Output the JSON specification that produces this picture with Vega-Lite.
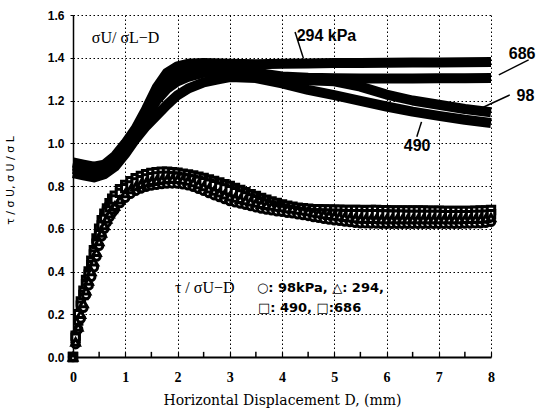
{
  "$schema": "https://vega.github.io/schema/vega-lite/v6.json",
  "width": 418,
  "height": 342,
  "autosize": {"type": "none"},
  "padding": {"left": 73, "top": 15, "right": 53, "bottom": 53},
  "background": "white",
  "config": {"view": {"stroke": null}, "font": "Liberation Sans"},
  "datasets": {
    "ratio": [
      {"s":"294","d":0,"v":0.91},{"s":"294","d":0.2,"v":0.90},{"s":"294","d":0.4,"v":0.89},{"s":"294","d":0.6,"v":0.90},{"s":"294","d":0.8,"v":0.94},{"s":"294","d":1.0,"v":1.00},{"s":"294","d":1.2,"v":1.07},{"s":"294","d":1.4,"v":1.16},{"s":"294","d":1.6,"v":1.26},{"s":"294","d":1.8,"v":1.33},{"s":"294","d":2.0,"v":1.36},{"s":"294","d":2.2,"v":1.372},{"s":"294","d":2.5,"v":1.375},{"s":"294","d":3.0,"v":1.372},{"s":"294","d":3.5,"v":1.37},{"s":"294","d":4.0,"v":1.372},{"s":"294","d":4.5,"v":1.373},{"s":"294","d":5.0,"v":1.375},{"s":"294","d":5.5,"v":1.376},{"s":"294","d":6.0,"v":1.377},{"s":"294","d":6.5,"v":1.378},{"s":"294","d":7.0,"v":1.378},{"s":"294","d":7.5,"v":1.379},{"s":"294","d":8.0,"v":1.38},
      {"s":"686","d":0,"v":0.895},{"s":"686","d":0.2,"v":0.885},{"s":"686","d":0.4,"v":0.875},{"s":"686","d":0.6,"v":0.88},{"s":"686","d":0.8,"v":0.925},{"s":"686","d":1.0,"v":0.985},{"s":"686","d":1.2,"v":1.055},{"s":"686","d":1.4,"v":1.14},{"s":"686","d":1.6,"v":1.23},{"s":"686","d":1.8,"v":1.30},{"s":"686","d":2.0,"v":1.335},{"s":"686","d":2.2,"v":1.352},{"s":"686","d":2.5,"v":1.36},{"s":"686","d":3.0,"v":1.35},{"s":"686","d":3.5,"v":1.33},{"s":"686","d":4.0,"v":1.312},{"s":"686","d":4.5,"v":1.306},{"s":"686","d":5.0,"v":1.304},{"s":"686","d":5.5,"v":1.303},{"s":"686","d":6.0,"v":1.303},{"s":"686","d":6.5,"v":1.303},{"s":"686","d":7.0,"v":1.304},{"s":"686","d":7.5,"v":1.304},{"s":"686","d":8.0,"v":1.305},
      {"s":"98","d":0,"v":0.88},{"s":"98","d":0.2,"v":0.87},{"s":"98","d":0.4,"v":0.865},{"s":"98","d":0.6,"v":0.87},{"s":"98","d":0.8,"v":0.91},{"s":"98","d":1.0,"v":0.97},{"s":"98","d":1.2,"v":1.04},{"s":"98","d":1.4,"v":1.12},{"s":"98","d":1.6,"v":1.20},{"s":"98","d":1.8,"v":1.255},{"s":"98","d":2.0,"v":1.29},{"s":"98","d":2.2,"v":1.31},{"s":"98","d":2.5,"v":1.33},{"s":"98","d":3.0,"v":1.335},{"s":"98","d":3.5,"v":1.32},{"s":"98","d":4.0,"v":1.30},{"s":"98","d":4.5,"v":1.295},{"s":"98","d":5.0,"v":1.29},{"s":"98","d":5.5,"v":1.265},{"s":"98","d":6.0,"v":1.228},{"s":"98","d":6.5,"v":1.20},{"s":"98","d":7.0,"v":1.18},{"s":"98","d":7.5,"v":1.16},{"s":"98","d":8.0,"v":1.145},
      {"s":"490","d":0,"v":0.86},{"s":"490","d":0.2,"v":0.85},{"s":"490","d":0.4,"v":0.84},{"s":"490","d":0.6,"v":0.855},{"s":"490","d":0.8,"v":0.89},{"s":"490","d":1.0,"v":0.95},{"s":"490","d":1.2,"v":1.02},{"s":"490","d":1.4,"v":1.08},{"s":"490","d":1.6,"v":1.13},{"s":"490","d":1.8,"v":1.18},{"s":"490","d":2.0,"v":1.225},{"s":"490","d":2.2,"v":1.255},{"s":"490","d":2.5,"v":1.285},{"s":"490","d":2.8,"v":1.30},{"s":"490","d":3.0,"v":1.31},{"s":"490","d":3.5,"v":1.305},{"s":"490","d":4.0,"v":1.28},{"s":"490","d":4.5,"v":1.25},{"s":"490","d":5.0,"v":1.225},{"s":"490","d":5.5,"v":1.198},{"s":"490","d":6.0,"v":1.172},{"s":"490","d":6.5,"v":1.148},{"s":"490","d":7.0,"v":1.128},{"s":"490","d":7.5,"v":1.11},{"s":"490","d":8.0,"v":1.095}
    ],
    "tau": [
      {"s":"490","d":0,"v":0},{"s":"490","d":0.05,"v":0.10},{"s":"490","d":0.1,"v":0.20},{"s":"490","d":0.15,"v":0.26},{"s":"490","d":0.2,"v":0.31},{"s":"490","d":0.25,"v":0.36},{"s":"490","d":0.3,"v":0.40},{"s":"490","d":0.35,"v":0.45},{"s":"490","d":0.4,"v":0.50},{"s":"490","d":0.45,"v":0.555},{"s":"490","d":0.5,"v":0.60},{"s":"490","d":0.55,"v":0.64},{"s":"490","d":0.6,"v":0.67},{"s":"490","d":0.65,"v":0.695},{"s":"490","d":0.7,"v":0.72},{"s":"490","d":0.75,"v":0.74},{"s":"490","d":0.8,"v":0.755},
      {"s":"490","d":0.9,"v":0.785},{"s":"490","d":1.0,"v":0.805},{"s":"490","d":1.1,"v":0.822},{"s":"490","d":1.2,"v":0.836},{"s":"490","d":1.3,"v":0.847},{"s":"490","d":1.4,"v":0.855},{"s":"490","d":1.5,"v":0.861},{"s":"490","d":1.6,"v":0.865},{"s":"490","d":1.7,"v":0.867},{"s":"490","d":1.8,"v":0.867},{"s":"490","d":1.9,"v":0.865},{"s":"490","d":2.0,"v":0.862},{"s":"490","d":2.1,"v":0.858},{"s":"490","d":2.2,"v":0.854},{"s":"490","d":2.3,"v":0.849},{"s":"490","d":2.4,"v":0.844},{"s":"490","d":2.5,"v":0.838},{"s":"490","d":2.6,"v":0.831},{"s":"490","d":2.7,"v":0.824},{"s":"490","d":2.8,"v":0.816},{"s":"490","d":2.9,"v":0.808},{"s":"490","d":3.0,"v":0.800},{"s":"490","d":3.1,"v":0.791},{"s":"490","d":3.2,"v":0.781},{"s":"490","d":3.3,"v":0.771},{"s":"490","d":3.4,"v":0.762},{"s":"490","d":3.5,"v":0.753},{"s":"490","d":3.6,"v":0.744},{"s":"490","d":3.7,"v":0.736},{"s":"490","d":3.8,"v":0.728},{"s":"490","d":3.9,"v":0.721},{"s":"490","d":4.0,"v":0.714},{"s":"490","d":4.1,"v":0.708},{"s":"490","d":4.2,"v":0.703},{"s":"490","d":4.3,"v":0.699},{"s":"490","d":4.4,"v":0.696},{"s":"490","d":4.5,"v":0.694},{"s":"490","d":4.6,"v":0.692},{"s":"490","d":4.7,"v":0.691},{"s":"490","d":4.8,"v":0.690},{"s":"490","d":4.9,"v":0.690},{"s":"490","d":5.0,"v":0.689},{"s":"490","d":5.1,"v":0.689},{"s":"490","d":5.2,"v":0.688},{"s":"490","d":5.3,"v":0.688},{"s":"490","d":5.4,"v":0.688},{"s":"490","d":5.5,"v":0.688},{"s":"490","d":5.6,"v":0.687},{"s":"490","d":5.7,"v":0.688},{"s":"490","d":5.8,"v":0.688},{"s":"490","d":5.9,"v":0.687},{"s":"490","d":6.0,"v":0.687},{"s":"490","d":6.1,"v":0.686},{"s":"490","d":6.2,"v":0.686},{"s":"490","d":6.3,"v":0.686},{"s":"490","d":6.4,"v":0.685},{"s":"490","d":6.5,"v":0.685},{"s":"490","d":6.6,"v":0.685},{"s":"490","d":6.7,"v":0.685},{"s":"490","d":6.8,"v":0.684},{"s":"490","d":6.9,"v":0.684},{"s":"490","d":7.0,"v":0.684},{"s":"490","d":7.1,"v":0.683},{"s":"490","d":7.2,"v":0.683},{"s":"490","d":7.3,"v":0.683},{"s":"490","d":7.4,"v":0.683},{"s":"490","d":7.5,"v":0.683},{"s":"490","d":7.6,"v":0.683},{"s":"490","d":7.7,"v":0.684},{"s":"490","d":7.8,"v":0.685},{"s":"490","d":7.9,"v":0.686},{"s":"490","d":8.0,"v":0.688},
      {"s":"686","d":0,"v":0},{"s":"686","d":0.05,"v":0.09},{"s":"686","d":0.1,"v":0.17},{"s":"686","d":0.15,"v":0.24},{"s":"686","d":0.2,"v":0.29},{"s":"686","d":0.25,"v":0.34},{"s":"686","d":0.3,"v":0.385},{"s":"686","d":0.35,"v":0.43},{"s":"686","d":0.4,"v":0.48},{"s":"686","d":0.45,"v":0.53},{"s":"686","d":0.5,"v":0.575},{"s":"686","d":0.55,"v":0.615},{"s":"686","d":0.6,"v":0.65},{"s":"686","d":0.65,"v":0.68},{"s":"686","d":0.7,"v":0.70},{"s":"686","d":0.75,"v":0.72},{"s":"686","d":0.8,"v":0.737},
      {"s":"686","d":0.9,"v":0.768},{"s":"686","d":1.0,"v":0.79},{"s":"686","d":1.1,"v":0.802},{"s":"686","d":1.2,"v":0.816},{"s":"686","d":1.3,"v":0.827},{"s":"686","d":1.4,"v":0.835},{"s":"686","d":1.5,"v":0.841},{"s":"686","d":1.6,"v":0.845},{"s":"686","d":1.7,"v":0.847},{"s":"686","d":1.8,"v":0.847},{"s":"686","d":1.9,"v":0.845},{"s":"686","d":2.0,"v":0.842},{"s":"686","d":2.1,"v":0.838},{"s":"686","d":2.2,"v":0.834},{"s":"686","d":2.3,"v":0.829},{"s":"686","d":2.4,"v":0.824},{"s":"686","d":2.5,"v":0.818},{"s":"686","d":2.6,"v":0.811},{"s":"686","d":2.7,"v":0.804},{"s":"686","d":2.8,"v":0.796},{"s":"686","d":2.9,"v":0.788},{"s":"686","d":3.0,"v":0.780},{"s":"686","d":3.1,"v":0.771},{"s":"686","d":3.2,"v":0.761},{"s":"686","d":3.3,"v":0.751},{"s":"686","d":3.4,"v":0.742},{"s":"686","d":3.5,"v":0.733},{"s":"686","d":3.6,"v":0.724},{"s":"686","d":3.7,"v":0.716},{"s":"686","d":3.8,"v":0.708},{"s":"686","d":3.9,"v":0.701},{"s":"686","d":4.0,"v":0.694},{"s":"686","d":4.1,"v":0.688},{"s":"686","d":4.2,"v":0.683},{"s":"686","d":4.3,"v":0.679},{"s":"686","d":4.4,"v":0.676},{"s":"686","d":4.5,"v":0.674},{"s":"686","d":4.6,"v":0.672},{"s":"686","d":4.7,"v":0.671},{"s":"686","d":4.8,"v":0.670},{"s":"686","d":4.9,"v":0.670},{"s":"686","d":5.0,"v":0.669},{"s":"686","d":5.1,"v":0.669},{"s":"686","d":5.2,"v":0.668},{"s":"686","d":5.3,"v":0.668},{"s":"686","d":5.4,"v":0.668},{"s":"686","d":5.5,"v":0.668},{"s":"686","d":5.6,"v":0.667},{"s":"686","d":5.7,"v":0.668},{"s":"686","d":5.8,"v":0.668},{"s":"686","d":5.9,"v":0.667},{"s":"686","d":6.0,"v":0.667},{"s":"686","d":6.1,"v":0.666},{"s":"686","d":6.2,"v":0.666},{"s":"686","d":6.3,"v":0.666},{"s":"686","d":6.4,"v":0.665},{"s":"686","d":6.5,"v":0.665},{"s":"686","d":6.6,"v":0.665},{"s":"686","d":6.7,"v":0.665},{"s":"686","d":6.8,"v":0.664},{"s":"686","d":6.9,"v":0.664},{"s":"686","d":7.0,"v":0.664},{"s":"686","d":7.1,"v":0.663},{"s":"686","d":7.2,"v":0.663},{"s":"686","d":7.3,"v":0.663},{"s":"686","d":7.4,"v":0.663},{"s":"686","d":7.5,"v":0.663},{"s":"686","d":7.6,"v":0.663},{"s":"686","d":7.7,"v":0.664},{"s":"686","d":7.8,"v":0.665},{"s":"686","d":7.9,"v":0.666},{"s":"686","d":8.0,"v":0.668},
      {"s":"98","d":0,"v":0},{"s":"98","d":0.05,"v":0.06},{"s":"98","d":0.1,"v":0.13},{"s":"98","d":0.15,"v":0.18},{"s":"98","d":0.2,"v":0.23},{"s":"98","d":0.25,"v":0.29},{"s":"98","d":0.3,"v":0.335},{"s":"98","d":0.35,"v":0.375},{"s":"98","d":0.4,"v":0.42},{"s":"98","d":0.45,"v":0.47},{"s":"98","d":0.5,"v":0.52},{"s":"98","d":0.55,"v":0.565},{"s":"98","d":0.6,"v":0.60},{"s":"98","d":0.65,"v":0.63},{"s":"98","d":0.7,"v":0.655},{"s":"98","d":0.75,"v":0.675},{"s":"98","d":0.8,"v":0.69},
      {"s":"98","d":0.9,"v":0.72},{"s":"98","d":1.0,"v":0.745},{"s":"98","d":1.1,"v":0.763},{"s":"98","d":1.2,"v":0.777},{"s":"98","d":1.3,"v":0.788},{"s":"98","d":1.4,"v":0.796},{"s":"98","d":1.5,"v":0.802},{"s":"98","d":1.6,"v":0.806},{"s":"98","d":1.7,"v":0.809},{"s":"98","d":1.8,"v":0.811},{"s":"98","d":1.9,"v":0.812},{"s":"98","d":2.0,"v":0.811},{"s":"98","d":2.1,"v":0.808},{"s":"98","d":2.2,"v":0.803},{"s":"98","d":2.3,"v":0.796},{"s":"98","d":2.4,"v":0.787},{"s":"98","d":2.5,"v":0.777},{"s":"98","d":2.6,"v":0.767},{"s":"98","d":2.7,"v":0.757},{"s":"98","d":2.8,"v":0.748},{"s":"98","d":2.9,"v":0.739},{"s":"98","d":3.0,"v":0.730},{"s":"98","d":3.1,"v":0.724},{"s":"98","d":3.2,"v":0.718},{"s":"98","d":3.3,"v":0.712},{"s":"98","d":3.4,"v":0.706},{"s":"98","d":3.5,"v":0.700},{"s":"98","d":3.6,"v":0.695},{"s":"98","d":3.7,"v":0.690},{"s":"98","d":3.8,"v":0.686},{"s":"98","d":3.9,"v":0.682},{"s":"98","d":4.0,"v":0.679},{"s":"98","d":4.1,"v":0.675},{"s":"98","d":4.2,"v":0.672},{"s":"98","d":4.3,"v":0.668},{"s":"98","d":4.4,"v":0.664},{"s":"98","d":4.5,"v":0.660},{"s":"98","d":4.6,"v":0.655},{"s":"98","d":4.7,"v":0.651},{"s":"98","d":4.8,"v":0.647},{"s":"98","d":4.9,"v":0.643},{"s":"98","d":5.0,"v":0.640},{"s":"98","d":5.1,"v":0.637},{"s":"98","d":5.2,"v":0.634},{"s":"98","d":5.3,"v":0.631},{"s":"98","d":5.4,"v":0.628},{"s":"98","d":5.5,"v":0.626},{"s":"98","d":5.6,"v":0.625},{"s":"98","d":5.7,"v":0.624},{"s":"98","d":5.8,"v":0.624},{"s":"98","d":5.9,"v":0.623},{"s":"98","d":6.0,"v":0.623},{"s":"98","d":6.1,"v":0.623},{"s":"98","d":6.2,"v":0.623},{"s":"98","d":6.3,"v":0.623},{"s":"98","d":6.4,"v":0.623},{"s":"98","d":6.5,"v":0.623},{"s":"98","d":6.6,"v":0.623},{"s":"98","d":6.7,"v":0.623},{"s":"98","d":6.8,"v":0.623},{"s":"98","d":6.9,"v":0.623},{"s":"98","d":7.0,"v":0.623},{"s":"98","d":7.1,"v":0.623},{"s":"98","d":7.2,"v":0.623},{"s":"98","d":7.3,"v":0.623},{"s":"98","d":7.4,"v":0.623},{"s":"98","d":7.5,"v":0.624},{"s":"98","d":7.6,"v":0.624},{"s":"98","d":7.7,"v":0.625},{"s":"98","d":7.8,"v":0.626},{"s":"98","d":7.9,"v":0.628},{"s":"98","d":8.0,"v":0.632},
      {"s":"294","d":0,"v":0},{"s":"294","d":0.05,"v":0.07},{"s":"294","d":0.1,"v":0.14},{"s":"294","d":0.15,"v":0.20},{"s":"294","d":0.2,"v":0.25},{"s":"294","d":0.25,"v":0.31},{"s":"294","d":0.3,"v":0.355},{"s":"294","d":0.35,"v":0.40},{"s":"294","d":0.4,"v":0.445},{"s":"294","d":0.45,"v":0.49},{"s":"294","d":0.5,"v":0.54},{"s":"294","d":0.55,"v":0.58},{"s":"294","d":0.6,"v":0.615},{"s":"294","d":0.65,"v":0.645},{"s":"294","d":0.7,"v":0.67},{"s":"294","d":0.75,"v":0.69},{"s":"294","d":0.8,"v":0.705},
      {"s":"294","d":0.9,"v":0.735},{"s":"294","d":1.0,"v":0.765},{"s":"294","d":1.1,"v":0.783},{"s":"294","d":1.2,"v":0.797},{"s":"294","d":1.3,"v":0.808},{"s":"294","d":1.4,"v":0.816},{"s":"294","d":1.5,"v":0.822},{"s":"294","d":1.6,"v":0.826},{"s":"294","d":1.7,"v":0.829},{"s":"294","d":1.8,"v":0.831},{"s":"294","d":1.9,"v":0.832},{"s":"294","d":2.0,"v":0.831},{"s":"294","d":2.1,"v":0.828},{"s":"294","d":2.2,"v":0.823},{"s":"294","d":2.3,"v":0.816},{"s":"294","d":2.4,"v":0.807},{"s":"294","d":2.5,"v":0.797},{"s":"294","d":2.6,"v":0.787},{"s":"294","d":2.7,"v":0.777},{"s":"294","d":2.8,"v":0.768},{"s":"294","d":2.9,"v":0.759},{"s":"294","d":3.0,"v":0.750},{"s":"294","d":3.1,"v":0.744},{"s":"294","d":3.2,"v":0.738},{"s":"294","d":3.3,"v":0.732},{"s":"294","d":3.4,"v":0.726},{"s":"294","d":3.5,"v":0.720},{"s":"294","d":3.6,"v":0.715},{"s":"294","d":3.7,"v":0.710},{"s":"294","d":3.8,"v":0.706},{"s":"294","d":3.9,"v":0.702},{"s":"294","d":4.0,"v":0.699},{"s":"294","d":4.1,"v":0.695},{"s":"294","d":4.2,"v":0.692},{"s":"294","d":4.3,"v":0.688},{"s":"294","d":4.4,"v":0.684},{"s":"294","d":4.5,"v":0.680},{"s":"294","d":4.6,"v":0.675},{"s":"294","d":4.7,"v":0.671},{"s":"294","d":4.8,"v":0.667},{"s":"294","d":4.9,"v":0.663},{"s":"294","d":5.0,"v":0.660},{"s":"294","d":5.1,"v":0.657},{"s":"294","d":5.2,"v":0.654},{"s":"294","d":5.3,"v":0.651},{"s":"294","d":5.4,"v":0.648},{"s":"294","d":5.5,"v":0.646},{"s":"294","d":5.6,"v":0.645},{"s":"294","d":5.7,"v":0.644},{"s":"294","d":5.8,"v":0.644},{"s":"294","d":5.9,"v":0.643},{"s":"294","d":6.0,"v":0.643},{"s":"294","d":6.1,"v":0.643},{"s":"294","d":6.2,"v":0.643},{"s":"294","d":6.3,"v":0.643},{"s":"294","d":6.4,"v":0.643},{"s":"294","d":6.5,"v":0.643},{"s":"294","d":6.6,"v":0.643},{"s":"294","d":6.7,"v":0.643},{"s":"294","d":6.8,"v":0.643},{"s":"294","d":6.9,"v":0.643},{"s":"294","d":7.0,"v":0.643},{"s":"294","d":7.1,"v":0.643},{"s":"294","d":7.2,"v":0.643},{"s":"294","d":7.3,"v":0.643},{"s":"294","d":7.4,"v":0.643},{"s":"294","d":7.5,"v":0.644},{"s":"294","d":7.6,"v":0.644},{"s":"294","d":7.7,"v":0.645},{"s":"294","d":7.8,"v":0.646},{"s":"294","d":7.9,"v":0.648},{"s":"294","d":8.0,"v":0.652}
    ]
  },
  "encoding": {
    "x": {
      "field": "d", "type": "quantitative",
      "scale": {"domain": [0, 8], "nice": false, "zero": false},
      "axis": {
        "values": [0,1,2,3,4,5,6,7,8],
        "format": "d",
        "labelFlush": false, "labelOverlap": false,
        "labelFont": "Liberation Serif", "labelFontSize": 14, "labelFontWeight": "bold", "labelColor": "black",
        "labelPadding": 18,
        "tickSize": -5, "tickColor": "black", "tickWidth": 1.2,
        "domainColor": "black", "domainWidth": 2,
        "grid": true, "gridColor": "black", "gridDash": [1.5, 2.5], "gridWidth": 1,
        "title": "Horizontal Displacement  D, (mm)",
        "titleFont": "DejaVu Serif", "titleFontSize": 14, "titleFontWeight": "normal", "titleColor": "black",
        "titleY": 43, "titleBaseline": "middle"
      }
    },
    "y": {
      "field": "v", "type": "quantitative",
      "scale": {"domain": [0, 1.6], "nice": false, "zero": false},
      "axis": {
        "values": [0,0.2,0.4,0.6,0.8,1.0,1.2,1.4,1.6],
        "format": ".1f",
        "labelFont": "Liberation Sans", "labelFontSize": 12, "labelFontWeight": "bold", "labelColor": "black",
        "labelPadding": 6,
        "tickSize": 3, "tickColor": "black",
        "domainColor": "black", "domainWidth": 1.5,
        "grid": true, "gridColor": "black", "gridDash": [1.5, 2.5], "gridWidth": 1,
        "title": "τ / σ U,  σ U / σ L",
        "titleFont": "DejaVu Sans", "titleFontSize": 11, "titleFontWeight": "normal", "titleColor": "black",
        "titleX": -58, "titleY": 165
      }
    }
  },
  "layer": [
    {
      "data": {"name": "ratio"},
      "mark": {"type": "line", "color": "black", "strokeWidth": 10, "strokeJoin": "round"},
      "encoding": {"detail": {"field": "s"}}
    },
    {
      "data": {"name": "tau"},
      "mark": {"type": "point", "fill": "white", "stroke": "black", "strokeWidth": 3, "size": 55, "opacity": 1, "fillOpacity": 1},
      "encoding": {
        "shape": {"field": "s", "type": "nominal", "legend": null,
          "scale": {"domain": ["98","294","490","686"], "range": ["circle","triangle-up","square","square"]}}
      }
    },
    {
      "data": {"values": [
        {"d": 4.25, "v": 1.52, "d2": 4.41, "v2": 1.397},
        {"d": 8.72, "v": 1.39, "d2": 8.15, "v2": 1.32},
        {"d": 8.36, "v": 1.226, "d2": 7.82, "v2": 1.165},
        {"d": 6.58, "v": 1.03, "d2": 6.67, "v2": 1.10},
        {"d": 0.5, "v": 0, "d2": 0.5, "v2": 0.024}, {"d": 1.5, "v": 0, "d2": 1.5, "v2": 0.024},
        {"d": 2.5, "v": 0, "d2": 2.5, "v2": 0.024}, {"d": 3.5, "v": 0, "d2": 3.5, "v2": 0.024},
        {"d": 4.5, "v": 0, "d2": 4.5, "v2": 0.024}, {"d": 5.5, "v": 0, "d2": 5.5, "v2": 0.024},
        {"d": 6.5, "v": 0, "d2": 6.5, "v2": 0.024}, {"d": 7.5, "v": 0, "d2": 7.5, "v2": 0.024}
      ]},
      "mark": {"type": "rule", "color": "black", "strokeWidth": 1.5},
      "encoding": {"x2": {"field": "d2"}, "y2": {"field": "v2"}}
    },
    {
      "data": {"values": [
        {"d": 4.28, "v": 1.502, "t": "294 kPa"},
        {"d": 8.34, "v": 1.418, "t": "686"},
        {"d": 8.49, "v": 1.221, "t": "98"},
        {"d": 6.33, "v": 0.987, "t": "490"}
      ]},
      "mark": {"type": "text", "align": "left", "baseline": "middle", "font": "Liberation Sans", "fontSize": 16, "fontWeight": "bold", "color": "black"},
      "encoding": {"text": {"field": "t"}}
    },
    {
      "data": {"values": [
        {"d": 0.36, "v": 1.492, "t": "σU/ σL−D"},
        {"d": 1.95, "v": 0.323, "t": "τ / σU−D"}
      ]},
      "mark": {"type": "text", "align": "left", "baseline": "middle", "font": "Liberation Serif", "fontSize": 16, "color": "black"},
      "encoding": {"text": {"field": "t"}}
    },
    {
      "data": {"values": [
        {"d": 3.52, "v": 0.323, "t": "○: 98kPa, △: 294,"},
        {"d": 3.54, "v": 0.227, "t": "□: 490, □:686"}
      ]},
      "mark": {"type": "text", "align": "left", "baseline": "middle", "font": "DejaVu Sans", "fontSize": 13, "fontWeight": "bold", "color": "black"},
      "encoding": {"text": {"field": "t"}}
    }
  ]
}
